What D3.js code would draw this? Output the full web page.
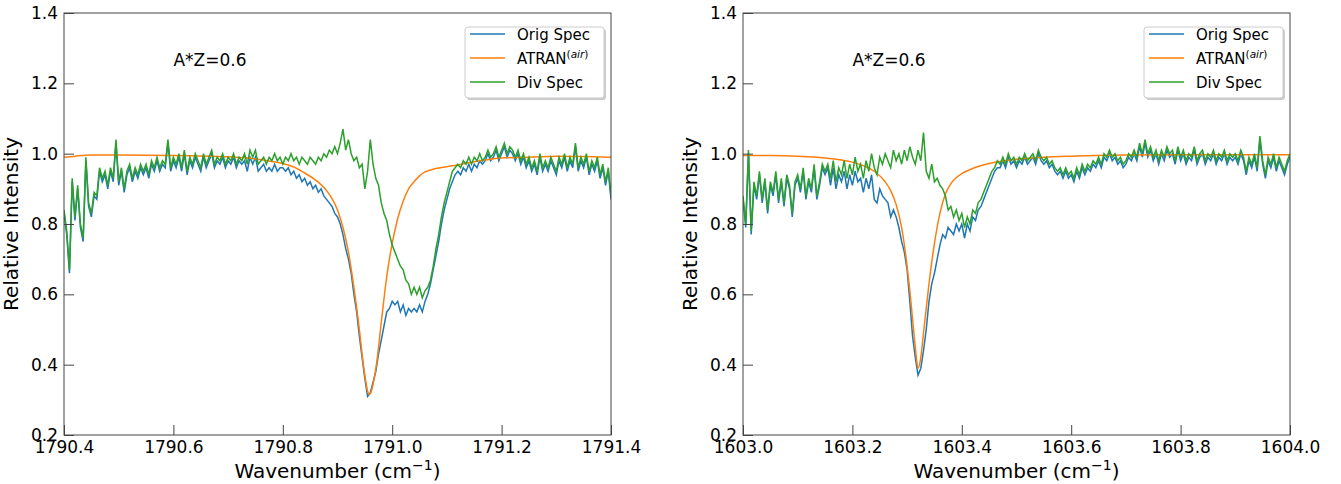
<!DOCTYPE html>
<html>
<head>
<meta charset="utf-8">
<script src="https://cdn.jsdelivr.net/npm/d3@7"></script>
<style>
  body { margin: 0; background: #fff; }
  text { font-family: "DejaVu Sans", sans-serif; }
</style>
</head>
<body>
<div id="chart"></div>
<script>
// sample grid: 201 points, step 0.005 cm-1
const leftStart = 1790.4, rightStart = 1603.0, step = 0.005;

const leftOrig = [
  0.83,0.77,0.66,0.92,0.81,0.90,0.79,0.75,0.98,0.85,0.82,0.88,0.87,0.95,0.92,0.94,0.90,0.95,0.92,1.03,
  0.91,0.95,0.89,0.94,0.96,0.92,0.95,0.93,0.96,0.94,0.96,0.93,0.97,0.95,0.98,0.95,0.97,0.96,1.03,0.95,
  0.98,0.96,0.99,0.95,1.00,0.94,0.98,0.96,0.99,0.97,0.95,0.99,0.96,0.98,1.00,0.96,0.98,0.97,0.99,0.96,
  0.98,0.97,0.99,0.96,0.98,0.97,0.98,0.95,0.99,0.97,0.99,0.95,0.96,0.97,0.95,0.96,0.95,0.97,0.95,0.96,
  0.96,0.95,0.96,0.94,0.95,0.93,0.94,0.92,0.93,0.91,0.92,0.90,0.91,0.89,0.90,0.88,0.87,0.86,0.85,0.83,
  0.82,0.80,0.77,0.73,0.70,0.66,0.60,0.55,0.48,0.42,0.36,0.31,0.32,0.35,0.38,0.43,0.47,0.51,0.55,0.56,
  0.58,0.57,0.58,0.55,0.57,0.54,0.56,0.55,0.56,0.55,0.57,0.55,0.58,0.60,0.63,0.67,0.71,0.75,0.80,0.84,
  0.87,0.90,0.92,0.94,0.95,0.94,0.96,0.95,0.97,0.95,0.97,0.96,0.98,0.97,0.98,1.00,0.98,0.99,1.01,0.98,
  1.00,1.02,0.99,1.01,1.00,0.98,1.00,0.97,0.99,0.96,0.98,0.95,0.97,0.94,0.99,0.95,0.97,0.95,0.98,0.96,
  0.94,0.98,0.96,0.99,0.95,0.98,0.96,1.02,0.95,0.98,0.96,0.99,0.94,0.97,0.95,0.98,0.93,0.96,0.91,0.95,
  0.87
];
const leftDiv = [
  0.84,0.78,0.67,0.93,0.82,0.91,0.80,0.76,0.99,0.86,0.83,0.89,0.88,0.96,0.93,0.95,0.91,0.96,0.93,1.04,
  0.92,0.96,0.90,0.95,0.97,0.93,0.96,0.94,0.97,0.95,0.97,0.94,0.98,0.96,0.99,0.96,0.98,0.97,1.04,0.96,
  0.99,0.97,1.00,0.96,1.01,0.95,0.99,0.97,1.00,0.98,0.96,1.00,0.97,0.99,1.01,0.97,0.99,0.98,1.00,0.97,
  0.99,0.98,1.00,0.97,0.99,0.98,1.00,0.97,1.01,0.99,1.01,0.97,0.98,0.99,0.97,0.99,0.98,1.00,0.98,0.99,
  0.97,0.99,0.98,1.00,0.98,0.99,0.97,0.99,0.98,0.97,0.99,0.98,0.97,0.99,0.98,1.00,0.99,1.01,1.00,1.02,
  1.00,1.03,1.07,1.01,1.04,1.00,0.98,0.99,0.96,0.97,0.90,0.95,1.04,0.97,0.93,0.91,0.86,0.83,0.81,0.77,
  0.74,0.72,0.70,0.68,0.67,0.64,0.63,0.60,0.62,0.60,0.62,0.59,0.61,0.62,0.64,0.68,0.73,0.77,0.82,0.86,
  0.89,0.92,0.95,0.96,0.97,0.96,0.98,0.97,0.99,0.97,0.99,0.98,1.00,0.98,0.99,1.01,0.99,1.00,1.02,0.99,
  1.01,1.03,1.00,1.02,1.01,0.99,1.01,0.98,1.00,0.97,0.99,0.96,0.98,0.95,1.00,0.96,0.98,0.96,0.99,0.97,
  0.95,0.99,0.97,1.00,0.96,0.99,0.97,1.03,0.96,0.99,0.97,1.00,0.95,0.98,0.96,0.99,0.94,0.97,0.92,0.96,
  0.88
];
const leftAtranX = [1790.4,1790.42,1790.45,1790.5,1790.6,1790.7,1790.75,1790.78,1790.8,1790.82,1790.84,1790.86,
  1790.88,1790.89,1790.9,1790.91,1790.92,1790.93,1790.94,1790.945,1790.95,1790.955,1790.958,1790.962,1790.967,
  1790.972,1790.98,1790.99,1791.0,1791.01,1791.02,1791.03,1791.04,1791.05,1791.06,1791.08,1791.1,1791.12,
  1791.15,1791.2,1791.25,1791.3,1791.35,1791.4];
const leftAtranY = [0.990,0.993,0.996,0.996,0.995,0.991,0.985,0.978,0.972,0.962,0.945,0.925,
  0.895,0.872,0.840,0.790,0.720,0.620,0.500,0.430,0.370,0.325,0.315,0.325,0.360,
  0.410,0.520,0.650,0.745,0.815,0.865,0.900,0.920,0.937,0.948,0.958,0.963,0.968,
  0.977,0.988,0.990,0.993,0.992,0.990];

const rightOrig = [
  0.87,0.79,1.00,0.77,0.91,0.87,0.94,0.86,0.92,0.83,0.91,0.88,0.94,0.86,0.92,0.85,0.93,0.90,0.82,0.91,
  0.93,0.89,0.95,0.87,0.92,0.89,0.96,0.87,0.91,0.96,0.94,0.96,0.91,0.96,0.90,0.94,0.92,0.95,0.90,0.94,
  0.91,0.95,0.92,0.93,0.89,0.93,0.90,0.94,0.87,0.86,0.90,0.88,0.87,0.86,0.82,0.84,0.82,0.79,0.75,0.72,
  0.67,0.58,0.48,0.42,0.37,0.39,0.44,0.50,0.58,0.63,0.66,0.70,0.74,0.77,0.76,0.79,0.78,0.77,0.80,0.78,
  0.80,0.76,0.80,0.78,0.82,0.81,0.84,0.85,0.87,0.89,0.91,0.93,0.95,0.96,0.96,0.98,0.96,0.99,0.97,0.98,
  0.96,0.98,0.97,0.99,0.97,0.98,0.99,0.97,1.00,0.98,0.97,0.98,0.96,0.97,0.95,0.94,0.95,0.93,0.95,0.93,
  0.94,0.92,0.95,0.93,0.96,0.94,0.96,0.95,0.97,0.96,0.98,0.96,0.99,0.98,1.00,0.98,0.99,0.97,0.98,0.96,
  0.97,0.99,0.98,1.00,0.98,1.02,0.99,1.03,0.99,1.01,0.98,1.00,0.97,1.00,0.98,1.01,0.99,1.00,0.97,1.01,
  0.98,1.00,0.97,0.99,0.98,1.01,0.97,0.99,1.00,0.97,0.99,0.98,1.00,0.97,0.99,0.98,1.00,0.97,0.99,0.98,
  0.99,0.97,1.00,0.98,0.94,0.98,0.96,0.99,0.95,1.04,0.97,0.93,0.98,0.96,0.99,0.95,0.98,0.96,0.94,0.97,
  0.99
];
const rightDiv = [
  0.88,0.80,1.01,0.78,0.92,0.88,0.95,0.87,0.93,0.84,0.92,0.89,0.95,0.87,0.93,0.86,0.94,0.91,0.83,0.92,
  0.94,0.90,0.96,0.88,0.93,0.90,0.97,0.88,0.92,0.97,0.95,0.97,0.93,0.98,0.92,0.96,0.94,0.98,0.93,0.97,
  0.94,0.99,0.95,0.97,0.93,0.98,0.95,1.00,0.96,0.94,0.99,0.97,1.00,0.98,0.96,1.01,0.98,1.00,0.97,1.01,
  0.98,1.02,0.99,0.97,1.01,0.98,1.06,0.95,0.93,0.97,0.92,0.93,0.91,0.90,0.88,0.84,0.85,0.82,0.84,0.81,
  0.83,0.79,0.82,0.80,0.84,0.83,0.86,0.87,0.89,0.91,0.93,0.95,0.96,0.98,0.97,0.99,0.97,1.00,0.98,0.99,
  0.97,0.99,0.98,1.00,0.98,0.99,1.00,0.98,1.01,0.99,0.98,0.99,0.97,0.98,0.96,0.95,0.96,0.94,0.96,0.94,
  0.95,0.93,0.96,0.94,0.97,0.95,0.97,0.96,0.98,0.97,0.99,0.97,1.00,0.99,1.01,0.99,1.00,0.98,0.99,0.97,
  0.98,1.00,0.99,1.01,0.99,1.03,1.00,1.04,1.00,1.02,0.99,1.01,0.98,1.01,0.99,1.02,1.00,1.01,0.98,1.02,
  0.99,1.01,0.98,1.00,0.99,1.02,0.98,1.00,1.01,0.98,1.00,0.99,1.01,0.98,1.00,0.99,1.01,0.98,1.00,0.99,
  1.00,0.98,1.01,0.99,0.95,0.99,0.97,1.00,0.96,1.05,0.98,0.94,0.99,0.97,1.00,0.96,0.99,0.97,0.95,0.98,
  1.00
];
const rightAtranX = [1603.0,1603.05,1603.1,1603.15,1603.18,1603.2,1603.22,1603.24,1603.26,1603.27,1603.28,
  1603.29,1603.3,1603.305,1603.31,1603.315,1603.32,1603.325,1603.33,1603.335,1603.34,1603.35,1603.36,
  1603.37,1603.38,1603.39,1603.4,1603.42,1603.45,1603.5,1603.55,1603.6,1603.7,1603.8,1603.9,1604.0];
const rightAtranY = [0.995,0.995,0.993,0.988,0.982,0.976,0.966,0.950,0.920,0.895,0.855,
  0.790,0.680,0.610,0.530,0.450,0.390,0.420,0.490,0.560,0.630,0.745,0.830,
  0.885,0.915,0.932,0.943,0.958,0.972,0.984,0.990,0.993,0.996,0.997,0.997,0.997];

const yTicks = [0.2, 0.4, 0.6, 0.8, 1.0, 1.2, 1.4];
const leftXTicks = [1790.4, 1790.6, 1790.8, 1791.0, 1791.2, 1791.4];
const rightXTicks = [1603.0, 1603.2, 1603.4, 1603.6, 1603.8, 1604.0];
const noteText = 'A*Z=0.6';

const W = 1341, H = 484;
const innerW = 547, innerH = 422, plotTop = 13;
const colors = { orig: '#1f77b4', atran: '#ff7f0e', div: '#2ca02c' };

const svg = d3.select('#chart').append('svg')
  .attr('width', W).attr('height', H);

function drawPanel(left, start, orig, div, atranX, atranY, xTicks, noteX) {
  const g = svg.append('g').attr('transform', `translate(${left},${plotTop})`);
  const x = d3.scaleLinear().domain([xTicks[0], xTicks[xTicks.length - 1]]).range([0, innerW]);
  const y = d3.scaleLinear().domain([0.2, 1.4]).range([innerH, 0]);

  g.append('clipPath').attr('id', 'clip' + left)
    .append('rect').attr('width', innerW).attr('height', innerH);

  const wn = (i) => start + i * step;
  const line = d3.line().x((d) => x(d[0])).y((d) => y(d[1]));
  const smooth = d3.line().x((d) => x(d[0])).y((d) => y(d[1])).curve(d3.curveMonotoneX);
  const plot = g.append('g').attr('clip-path', `url(#clip${left})`);

  plot.append('path').datum(orig.map((v, i) => [wn(i), v]))
    .attr('d', line).attr('fill', 'none').attr('stroke', colors.orig).attr('stroke-width', 1.5);
  plot.append('path').datum(atranX.map((v, i) => [v, atranY[i]]))
    .attr('d', smooth).attr('fill', 'none').attr('stroke', colors.atran).attr('stroke-width', 1.5);
  plot.append('path').datum(div.map((v, i) => [wn(i), v]))
    .attr('d', line).attr('fill', 'none').attr('stroke', colors.div).attr('stroke-width', 1.5);

  const xAxis = g.append('g').attr('transform', `translate(0,${innerH})`)
    .call(d3.axisBottom(x).tickValues(xTicks).tickFormat(d3.format('.1f')).tickSize(-10).tickPadding(6));
  const yAxis = g.append('g')
    .call(d3.axisLeft(y).tickValues(yTicks).tickFormat(d3.format('.1f')).tickSize(-10).tickPadding(6));
  [xAxis, yAxis].forEach((ax) => {
    ax.select('.domain').remove();
    ax.selectAll('line').attr('stroke', '#444');
    ax.selectAll('text').attr('fill', '#000').attr('font-size', 17)
      .attr('font-family', '"DejaVu Sans", sans-serif');
  });

  g.append('rect').attr('width', innerW).attr('height', innerH)
    .attr('fill', 'none').attr('stroke', '#444').attr('stroke-width', 1);

  g.append('text').attr('x', x(noteX)).attr('y', y(1.25))
    .attr('font-size', 17).attr('fill', '#000').text(noteText);

  // axis labels
  g.append('text')
    .attr('transform', `translate(${-46},${innerH / 2}) rotate(-90)`)
    .attr('text-anchor', 'middle').attr('font-size', 20).attr('fill', '#000')
    .text('Relative Intensity');

  const xl = g.append('text').attr('x', innerW / 2).attr('y', innerH + 43)
    .attr('text-anchor', 'middle').attr('font-size', 20).attr('fill', '#000');
  xl.append('tspan').text('Wavenumber (cm');
  xl.append('tspan').attr('dy', -8).attr('font-size', 14).text('−1');
  xl.append('tspan').attr('dy', 8).text(')');

  // legend
  const lg = g.append('g').attr('transform', `translate(${innerW - 146},${14})`);
  lg.append('rect').attr('x', 2).attr('y', 2).attr('width', 139).attr('height', 71)
    .attr('rx', 3).attr('fill', '#999').attr('opacity', 0.5);
  lg.append('rect').attr('width', 139).attr('height', 71).attr('rx', 3)
    .attr('fill', '#fff').attr('stroke', '#ccc');
  const items = [
    { key: 'orig', label: 'Orig Spec' },
    { key: 'atran', label: 'ATRAN' },
    { key: 'div', label: 'Div Spec' },
  ];
  items.forEach((it, i) => {
    const yy = 7 + i * 24;
    lg.append('line').attr('x1', 5).attr('x2', 40).attr('y1', yy).attr('y2', yy)
      .attr('stroke', colors[it.key]).attr('stroke-width', 1.5);
    const t = lg.append('text').attr('x', 52).attr('y', yy + 5.5)
      .attr('font-size', 15).attr('fill', '#000').text(it.label);
    if (it.key === 'atran') {
      const s = t.append('tspan').attr('dy', -6).attr('font-size', 10.5);
      s.append('tspan').text('(');
      s.append('tspan').attr('font-style', 'italic').text('air');
      s.append('tspan').text(')');
    }
  });
}

drawPanel(64, leftStart, leftOrig, leftDiv, leftAtranX, leftAtranY, leftXTicks, 1790.6);
drawPanel(743, rightStart, rightOrig, rightDiv, rightAtranX, rightAtranY, rightXTicks, 1603.2);
</script>
</body>
</html>
